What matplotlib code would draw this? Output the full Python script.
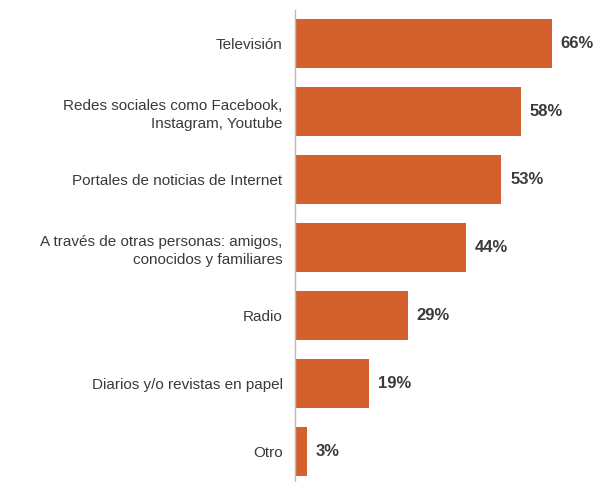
import matplotlib
matplotlib.use("Agg")
from matplotlib import pyplot as plt

categories = ["Televisión",
              "Redes sociales como Facebook,\nInstagram, Youtube",
              "Portales de noticias de Internet",
              "A través de otras personas: amigos,\nconocidos y familiares",
              "Radio",
              "Diarios y/o revistas en papel",
              "Otro"]
values = [66, 58, 53, 44, 29, 19, 3]

plt.rcParams['font.family'] = ['Liberation Sans', 'DejaVu Sans']

fig = plt.figure(figsize=(5.97, 4.82), dpi=100)
ax = fig.add_axes([295/597, 0, 302/597, 472/482])

pos = range(len(categories))
ax.barh(pos, values, height=0.72, color="#D4602E")
ax.set_xlim(0, 302/3.89)
ax.set_ylim(6.45, -0.49)

ax.set_yticks(list(pos))
ax.set_yticklabels(categories, fontsize=11, color="#3a3a3a", linespacing=1.35)
ax.tick_params(axis="y", length=0, pad=9)
ax.set_xticks([])

for s in ["top", "right", "bottom"]:
    ax.spines[s].set_visible(False)
ax.spines["left"].set_color("#BBBBBB")
ax.spines["left"].set_linewidth(1)

for i, v in enumerate(values):
    ax.text(v + 2.3, i, f"{v}%", va="center", ha="left", fontsize=12,
            fontweight="bold", color="#3a3a3a")

fig.savefig("out.png", dpi=100)
